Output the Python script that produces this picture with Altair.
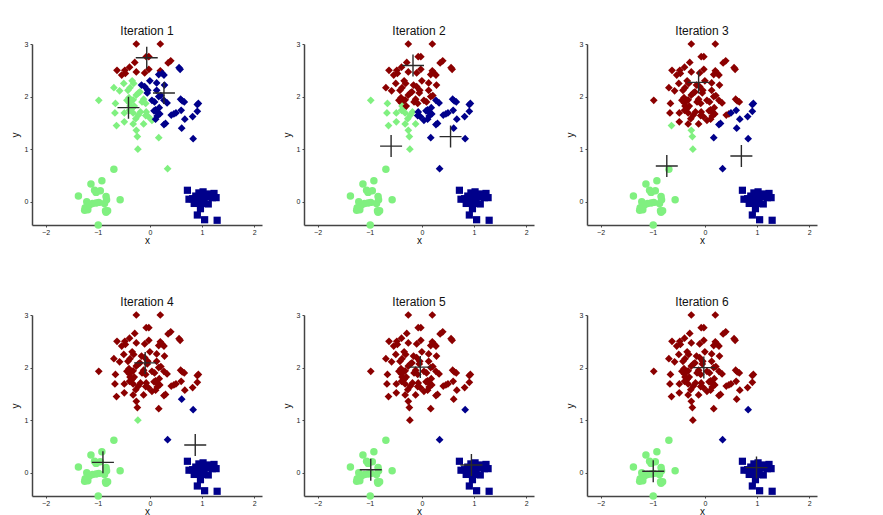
import altair as alt
import pandas as pd

# ---- data points (true groups by marker shape) ----
diamond_x = [-0.26, 0.20, -0.07, -0.02, 0.35, 0.40, -0.29, -0.39, -0.63, -0.48,
             -0.47, -0.54, -0.26, -0.02, -0.10, 0.20, 0.24, 0.17, 0.27, 0.56,
             0.58, -0.34, -0.31, -0.16, -0.10, -0.04, -0.05, 0.13, 0.28, 0.13,
             0.21, -0.38, -0.42, -0.58, -0.69, -0.98, -0.66, -0.67, -0.64, -0.49,
             -0.49, -0.40, -0.35, -0.39, -0.32, -0.44, -0.26, -0.22, -0.38, -0.34,
             -0.30, -0.39, -0.32, -0.22, -0.18, -0.08, -0.03, -0.07, -0.15, -0.12,
             -0.08, 0.04, 0.09, 0.17, 0.27, 0.08, 0.15, 0.11, 0.19, 0.14,
             0.04, 0.11, 0.18, 0.27, 0.30, -0.32, -0.12, -0.26, -0.24, -0.23,
             0.17, 0.41, 0.46, 0.50, 0.60, 0.59, 0.62, 0.66, 0.67, 0.61,
             0.82, 0.91, 0.93, 0.91, 0.83, 0.34, -0.19, -0.50, 0.33, -0.27, 0.00]
diamond_y = [3.00, 3.00, 2.76, 2.76, 2.64, 2.68, 2.65, 2.56, 2.50, 2.50,
             2.44, 2.41, 2.47, 2.52, 2.45, 2.49, 2.44, 2.42, 2.41, 2.55,
             2.52, 2.30, 2.25, 2.22, 2.19, 2.12, 2.07, 2.26, 2.22, 2.12,
             2.02, 2.17, 2.12, 2.11, 2.17, 1.93, 1.87, 1.69, 1.45, 1.52,
             1.69, 1.98, 1.93, 1.88, 1.94, 1.93, 2.03, 2.07, 1.82, 1.78,
             1.82, 1.74, 1.69, 1.65, 1.71, 1.64, 1.62, 1.71, 1.90, 1.95,
             1.87, 1.93, 1.90, 2.00, 1.93, 1.73, 1.70, 1.75, 1.67, 1.63,
             1.55, 1.57, 1.79, 1.47, 1.49, 1.48, 1.48, 1.36, 1.24, 1.00,
             1.22, 1.65, 1.67, 1.69, 1.74, 1.95, 1.92, 1.90, 1.57, 1.40,
             1.62, 1.85, 1.87, 1.72, 1.20, 0.63, 2.09, 2.25, 1.88, 1.58, 2.30]

circle_x = [-1.37, -1.13, -0.92, -1.06, -1.03, -0.95, -0.84, -0.83, -0.57, -1.21,
            -1.16, -1.10, -1.03, -0.98, -1.24, -1.19, -1.25, -0.87, -0.85, -0.81,
            -0.84, -0.99, -0.69]
circle_y = [0.11, 0.34, 0.40, 0.22, 0.18, 0.21, 0.10, 0.04, 0.04, 0.00,
            -0.06, -0.03, -0.02, -0.01, -0.11, -0.15, -0.16, -0.03, -0.17, -0.17,
            -0.20, -0.44, 0.62]

square_x = [0.72, 0.75, 0.82, 0.85, 0.88, 0.93, 0.94, 0.97, 0.99, 1.02,
            1.04, 1.02, 0.97, 0.91, 1.05, 1.12, 1.12, 1.16, 1.23, 1.20,
            1.27, 1.29, 0.91, 1.07]
square_y = [0.22, 0.05, 0.06, -0.03, 0.11, 0.03, 0.17, 0.00, 0.11, 0.19,
            0.03, -0.03, -0.13, -0.25, -0.34, -0.04, 0.15, 0.11, 0.16, 0.08,
            0.08, -0.35, -0.02, 0.10]

# ---- centroids shown in each iteration ----
iterations = [1, 2, 3, 4, 5, 6]
red_cx = [-0.06, -0.17, -0.12, -0.09, -0.03, -0.02]
red_cy = [2.74, 2.59, 2.27, 2.09, 2.01, 2.00]
green_cx = [-0.41, -0.59, -0.73, -0.90, -0.98, -0.99]
green_cy = [1.79, 1.06, 0.68, 0.20, 0.06, 0.03]
blue_cx = [0.27, 0.55, 0.70, 0.87, 0.95, 0.99]
blue_cy = [2.07, 1.24, 0.87, 0.53, 0.15, 0.10]

cluster_names = ["red", "green", "blue"]
cluster_colors = ["#8B0000", "#80F080", "#00008B"]
shape_names = ["diamond", "circle", "square"]

pts = pd.DataFrame({
    "x": diamond_x + circle_x + square_x,
    "y": diamond_y + circle_y + square_y,
    "shape": ["diamond"] * len(diamond_x) + ["circle"] * len(circle_x) + ["square"] * len(square_x),
})

X_DOMAIN = [-2.26, 2.15]
Y_DOMAIN = [-0.44, 3.0]
W, H = 230, 181
CROSS = "M-1,0H1M0,-1V1"


def panel(i):
    k = iterations.index(i)
    cents = {
        "red": (red_cx[k], red_cy[k]),
        "green": (green_cx[k], green_cy[k]),
        "blue": (blue_cx[k], blue_cy[k]),
    }
    df = pts.copy()
    d = {c: (df["x"] - cx) ** 2 + (df["y"] - cy) ** 2 for c, (cx, cy) in cents.items()}
    dd = pd.DataFrame(d)
    df["cluster"] = dd.idxmin(axis=1)
    cdf = pd.DataFrame({"x": [v[0] for v in cents.values()],
                        "y": [v[1] for v in cents.values()]})

    xenc = alt.X("x:Q", scale=alt.Scale(domain=X_DOMAIN, nice=False, zero=False),
                 axis=alt.Axis(values=[-2, -1.5, -1, -0.5, 0, 0.5, 1, 1.5, 2], format="~g",
                               title="x"))
    yenc = alt.Y("y:Q", scale=alt.Scale(domain=Y_DOMAIN, nice=False, zero=False),
                 axis=alt.Axis(values=[0, 0.5, 1, 1.5, 2, 2.5, 3], format="~g",
                               title="y"))

    points = alt.Chart(df).mark_point(filled=True, opacity=1, strokeWidth=0).encode(
        x=xenc, y=yenc,
        color=alt.Color("cluster:N", scale=alt.Scale(domain=cluster_names, range=cluster_colors),
                        legend=None),
        shape=alt.Shape("shape:N", scale=alt.Scale(domain=shape_names, range=shape_names),
                        legend=None),
        size=alt.Size("shape:N", scale=alt.Scale(domain=shape_names, range=[60, 52, 40]),
                      legend=None),
    )
    crosses = alt.Chart(cdf).mark_point(shape=CROSS, filled=False, size=484,
                                        stroke="#2a2a2a", strokeWidth=1.4, opacity=1).encode(
        x=alt.X("x:Q"), y=alt.Y("y:Q"))
    return alt.layer(points, crosses).properties(
        width=W, height=H, title=f"Iteration {i}")


row1 = alt.hconcat(alt.hconcat(panel(1), panel(2), spacing=20), panel(3), spacing=31)
row2 = alt.hconcat(alt.hconcat(panel(4), panel(5), spacing=20), panel(6), spacing=31)

chart = alt.vconcat(row1, row2, spacing=51).properties(
    padding={"left": 10, "top": 25, "right": 5, "bottom": 0}
).configure_view(stroke=None).configure_axis(
    grid=False,
    domainColor="#444444", domainWidth=1.5,
    tickColor="#444444", tickSize=2, tickWidth=1,
    labelFontSize=7, labelColor="#222222", labelFont="Liberation Sans",
    labelPadding=1,
    titleFontSize=10, titleFontWeight="normal", titleColor="#111111",
    titleFont="Liberation Sans",
).configure_axisY(titlePadding=4, labelPadding=2).configure_axisX(titlePadding=0).configure_title(
    fontSize=12, fontWeight="normal", font="Liberation Sans", color="#111111", offset=2
)

chart.save("out.html", embed_options={"renderer": "svg", "actions": False})
